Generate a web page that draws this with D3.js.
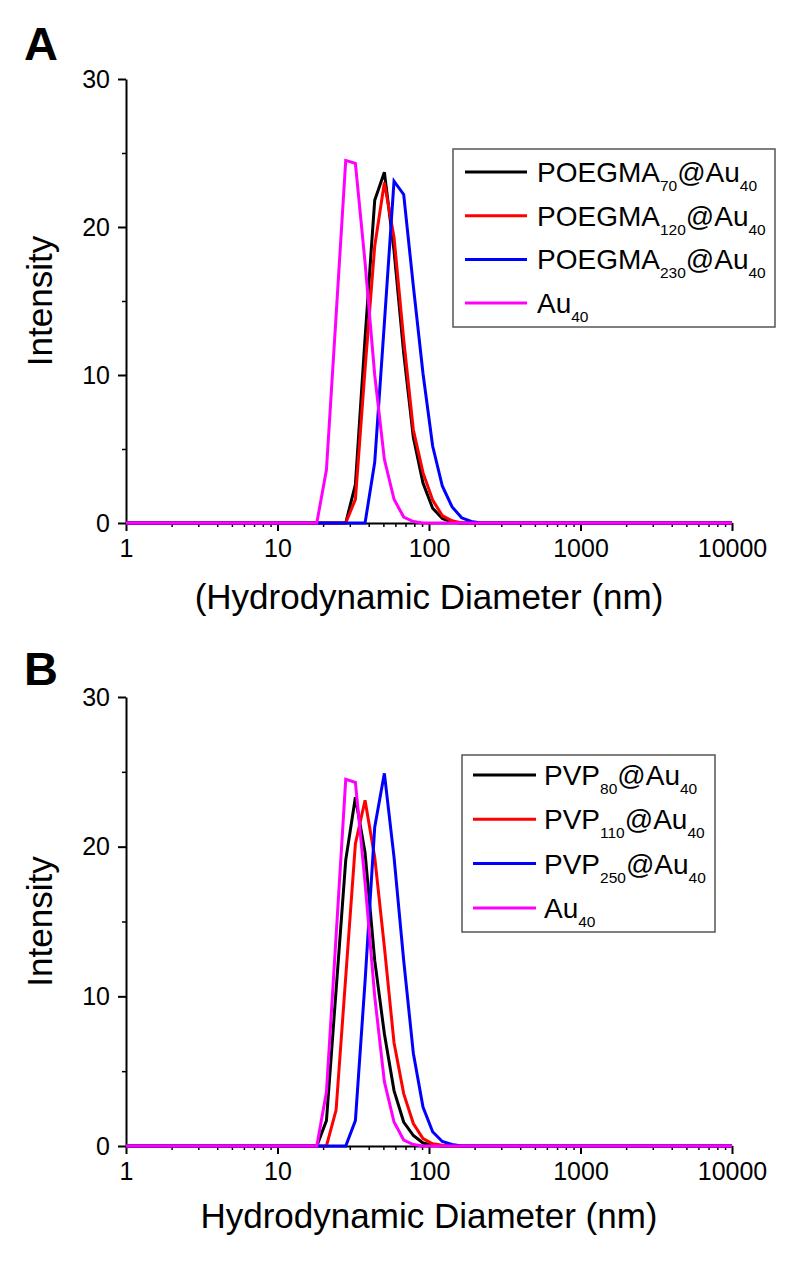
<!DOCTYPE html>
<html>
<head>
<meta charset="utf-8">
<script src="https://cdn.jsdelivr.net/npm/d3@7"></script>
<style>
  html, body { margin: 0; padding: 0; background: #fff; }
  svg { display: block; font-family: Arial, "Liberation Sans", sans-serif; }
</style>
</head>
<body>
<svg id="chart" width="800" height="1269"></svg>
<script>
// ---------- DATA ----------
const sizes = [1, 18.17, 21.04, 24.36, 28.21, 32.67, 37.84, 43.82, 50.75, 58.77, 68.06, 78.82, 91.28, 105.7, 122.4, 141.8, 164.2, 190.1, 220.2, 255.0, 10000];

const poegma70  = [0, 0, 0, 0, 0, 2.6, 12.5, 21.8, 23.7, 18.4, 11.5, 5.8, 2.7, 1.0, 0.3, 0.05, 0, 0, 0, 0, 0];
const poegma120 = [0, 0, 0, 0, 0, 1.6, 10.4, 18.7, 23.0, 19.3, 12.4, 6.3, 3.4, 1.55, 0.5, 0.15, 0, 0, 0, 0, 0];
const poegma230 = [0, 0, 0, 0, 0, 0, 0, 4.1, 13.5, 23.1, 22.2, 16.0, 10.1, 5.2, 2.5, 1.1, 0.35, 0.1, 0, 0, 0];
const au40      = [0, 0, 3.6, 14.0, 24.5, 24.3, 17.6, 10.0, 4.3, 1.6, 0.4, 0.1, 0, 0, 0, 0, 0, 0, 0, 0, 0];

const pvp80  = [0, 0, 1.7, 10.4, 19.1, 23.3, 19.6, 12.4, 7.5, 3.7, 1.6, 0.7, 0.2, 0.05, 0, 0, 0, 0, 0, 0, 0];
const pvp110 = [0, 0, 0, 2.4, 11.3, 20.2, 23.1, 19.3, 13.3, 6.9, 3.5, 1.5, 0.5, 0.15, 0.05, 0, 0, 0, 0, 0, 0];
const pvp250 = [0, 0, 0, 0, 0, 1.7, 11.0, 21.3, 24.9, 19.3, 12.4, 6.2, 2.6, 0.95, 0.3, 0.1, 0, 0, 0, 0, 0];

const seriesColors = ["#000000", "#ff0000", "#0000ff", "#ff00ff"];
const namesA = [["POEGMA", "70", "@Au", "40"], ["POEGMA", "120", "@Au", "40"], ["POEGMA", "230", "@Au", "40"], ["Au", "40"]];
const namesB = [["PVP", "80", "@Au", "40"], ["PVP", "110", "@Au", "40"], ["PVP", "250", "@Au", "40"], ["Au", "40"]];

const xTicks = [1, 10, 100, 1000, 10000];
const yTicks = [0, 10, 20, 30];
const yMinor = [5, 15, 25];
const xDomain = [1, 10000];
const yDomain = [0, 30];

const panels = [
  { letter: "A", letterY: 60, series: [poegma70, poegma120, poegma230, au40], names: namesA,
    xTitle: "(Hydrodynamic Diameter (nm)", top: 79, bottom: 523, titleY: 609,
    legend: { x: 453, y: 149, w: 322, h: 178, lineX0: 465, lineX1: 527, textX: 537, firstY: 172, step: 43.7 } },
  { letter: "B", letterY: 685, series: [pvp80, pvp110, pvp250, au40], names: namesB,
    xTitle: "Hydrodynamic Diameter (nm)", top: 697, bottom: 1146, titleY: 1228,
    legend: { x: 462, y: 755, w: 253, h: 177, lineX0: 473, lineX1: 536, textX: 544, firstY: 775, step: 44.3 } }
];

// ---------- DRAW ----------
const svg = d3.select("#chart");
const left = 126, right = 732;
const FONT = "Arial, 'Liberation Sans', sans-serif";

panels.forEach((p, pi) => {
  const x = d3.scaleLog().domain(xDomain).range([left, right]);
  const y = d3.scaleLinear().domain(yDomain).range([p.bottom, p.top]);
  const g = svg.append("g");

  // panel letter
  g.append("text").attr("x", 24).attr("y", p.letterY)
    .attr("font-size", 47).attr("font-weight", "bold").text(p.letter);

  // minor x ticks
  const minor = [];
  for (let d = 1; d < 10000; d *= 10) for (let k = 2; k <= 9; k++) minor.push(d * k);
  g.append("g").attr("transform", `translate(0,${p.bottom})`)
    .call(d3.axisBottom(x).tickValues(minor).tickSize(4).tickFormat(""))
    .call(s => s.select(".domain").remove())
    .call(s => s.selectAll("line").attr("stroke-width", 1.5));

  // major x axis
  const xa = g.append("g").attr("transform", `translate(0,${p.bottom})`)
    .call(d3.axisBottom(x).tickValues(xTicks).tickSize(8).tickSizeOuter(0).tickPadding(8).tickFormat(d3.format("d")));
  xa.select(".domain").attr("stroke-width", 2);
  xa.selectAll("line").attr("stroke-width", 2);
  xa.selectAll("text").attr("font-size", 25).attr("font-family", FONT);

  // minor y ticks
  g.append("g").attr("transform", `translate(${left},0)`)
    .call(d3.axisLeft(y).tickValues(yMinor).tickSize(4).tickFormat(""))
    .call(s => s.select(".domain").remove())
    .call(s => s.selectAll("line").attr("stroke-width", 1.5));

  // major y axis
  const ya = g.append("g").attr("transform", `translate(${left},0)`)
    .call(d3.axisLeft(y).tickValues(yTicks).tickSize(8).tickSizeOuter(0).tickPadding(8));
  ya.select(".domain").attr("stroke-width", 2);
  ya.selectAll("line").attr("stroke-width", 2);
  ya.selectAll("text").attr("font-size", 25).attr("font-family", FONT);

  // axis titles
  g.append("text").attr("x", (left + right) / 2).attr("y", p.titleY)
    .attr("text-anchor", "middle").attr("font-size", 35).text(p.xTitle);
  g.append("text").attr("transform", `translate(52,${(p.top + p.bottom) / 2}) rotate(-90)`)
    .attr("text-anchor", "middle").attr("font-size", 35).text("Intensity");

  // clip
  const clipId = "clip" + pi;
  svg.append("clipPath").attr("id", clipId).append("rect")
    .attr("x", left).attr("y", p.top - 10).attr("width", right - left).attr("height", p.bottom - p.top + 12);

  const line = d3.line().x(d => x(d[0])).y(d => y(d[1]));
  p.series.forEach((vals, i) => {
    g.append("path").attr("clip-path", `url(#${clipId})`)
      .datum(sizes.map((s, k) => [s, vals[k]]))
      .attr("fill", "none").attr("stroke", seriesColors[i]).attr("stroke-width", 3)
      .attr("stroke-linejoin", "miter").attr("d", line);
  });

  // legend
  const L = p.legend;
  g.append("rect").attr("x", L.x).attr("y", L.y).attr("width", L.w).attr("height", L.h)
    .attr("fill", "#fff").attr("stroke", "#555").attr("stroke-width", 1.5);
  p.names.forEach((parts, i) => {
    const ly = L.firstY + i * L.step;
    g.append("line").attr("x1", L.lineX0).attr("x2", L.lineX1).attr("y1", ly).attr("y2", ly)
      .attr("stroke", seriesColors[i]).attr("stroke-width", 3);
    const t = g.append("text").attr("x", L.textX).attr("y", ly + 10).attr("font-size", 28);
    parts.forEach((part, j) => {
      const sub = j % 2 === 1;
      t.append("tspan").attr("font-size", sub ? 15.5 : 28)
        .attr("dy", sub ? 9 : (j > 0 ? -9 : 0)).text(part);
    });
  });
});
</script>
</body>
</html>
